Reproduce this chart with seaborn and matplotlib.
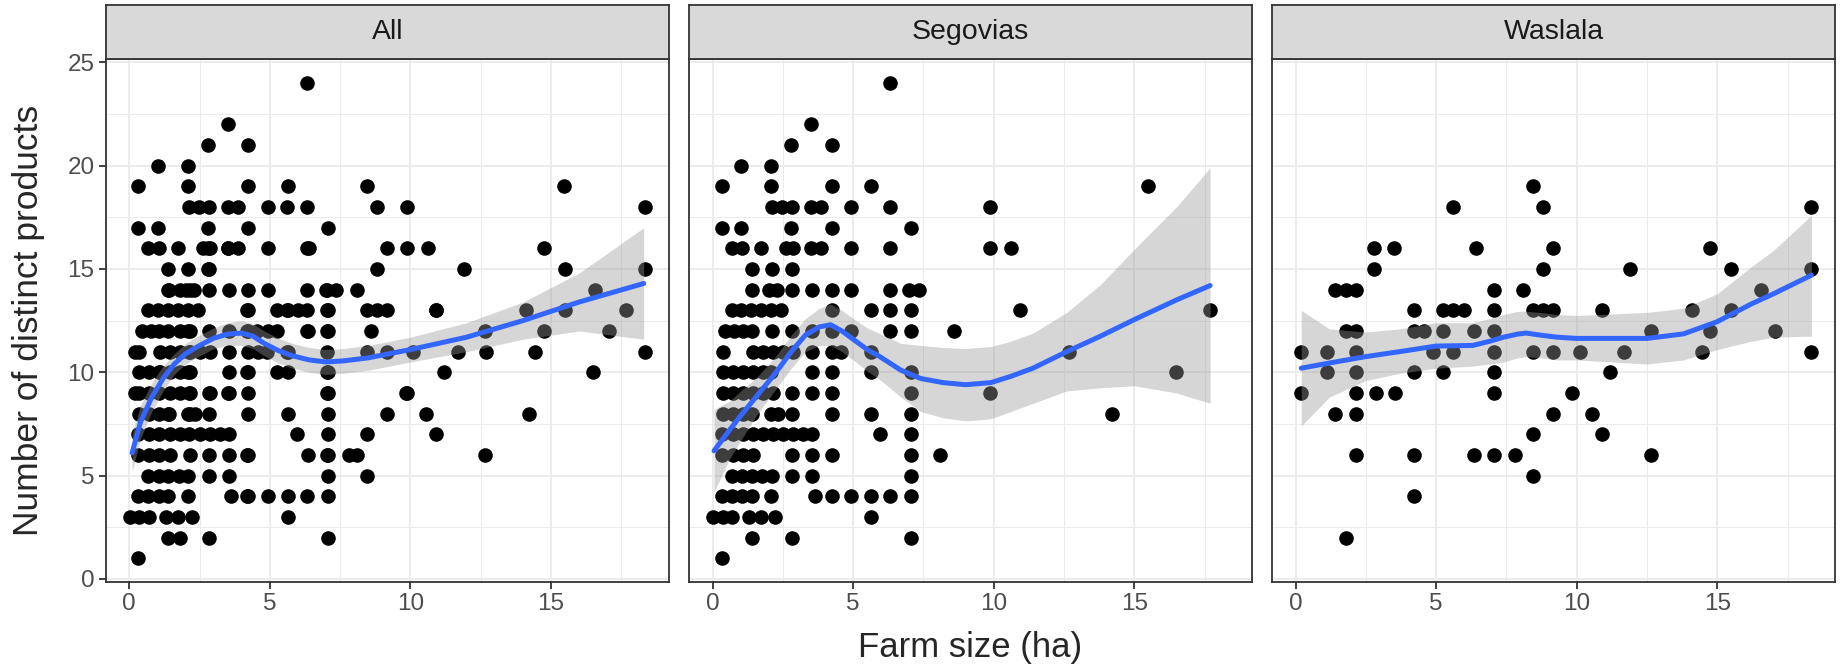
import matplotlib
matplotlib.use("Agg")
import pandas as pd
import matplotlib.pyplot as plt
import seaborn as sns

# farm size (ha) per number of distinct products, read from the facets
segovias = {
    24: [6.31],
    22: [3.51],
    21: [2.8, 4.23],
    20: [1.01, 2.08],
    19: [0.32, 2.08, 4.23, 5.63, 15.48],
    18: [2.12, 2.48, 2.83, 3.51, 3.87, 4.94, 6.31, 9.87],
    17: [0.32, 1.01, 2.8, 4.23, 7.06],
    16: [0.68, 1.04, 1.73, 2.62, 2.86, 3.51, 3.87, 4.94, 6.31, 9.87, 10.62],
    15: [1.39, 2.1, 2.82],
    14: [1.39, 2.02, 2.29, 2.82, 3.54, 4.23, 4.94, 6.31, 7.0, 7.35],
    13: [0.68, 1.01, 1.37, 1.73, 2.08, 2.44, 4.23, 5.63, 6.31, 7.06, 10.92, 17.68],
    12: [0.44, 0.77, 1.07, 1.39, 2.1, 2.82, 3.54, 4.23, 4.94, 6.31, 7.06, 8.6],
    11: [0.36, 1.43, 1.79, 2.14, 2.5, 2.86, 3.54, 4.23, 4.58, 5.65, 12.68],
    10: [0.36, 0.71, 1.07, 1.43, 1.79, 2.08, 3.54, 4.23, 5.63, 7.06, 16.48],
    9: [0.36, 0.71, 1.07, 1.43, 1.79, 2.14, 2.82, 3.54, 4.23, 7.06, 9.87],
    8: [0.36, 0.71, 1.07, 1.39, 2.08, 2.32, 2.82, 4.23, 5.63, 7.06, 14.22],
    7: [0.32, 0.71, 1.07, 1.43, 1.79, 2.14, 2.5, 2.86, 3.21, 3.54, 5.95, 7.06],
    6: [0.32, 0.71, 1.07, 1.43, 2.82, 3.54, 4.23, 7.06, 8.09],
    5: [0.68, 1.04, 1.39, 1.75, 2.1, 2.82, 3.54, 7.06],
    4: [0.32, 0.68, 1.04, 1.39, 2.08, 3.63, 4.23, 4.94, 5.63, 6.31, 7.06],
    3: [0.02, 0.36, 0.69, 1.31, 1.73, 2.23, 5.63],
    2: [1.39, 2.82, 7.06],
    1: [0.32],
}

waslala = {
    19: [8.45],
    18: [5.6, 8.8, 18.35],
    16: [2.8, 3.5, 6.4, 9.15, 14.75],
    15: [2.8, 8.8, 11.9, 15.5, 18.35],
    14: [1.4, 1.8, 2.15, 7.05, 8.1, 16.55],
    13: [4.2, 5.25, 5.6, 6.0, 7.05, 8.45, 8.8, 9.15, 10.9, 14.1, 15.5],
    12: [1.8, 2.15, 4.2, 4.55, 5.25, 6.35, 7.05, 12.65, 14.75, 17.05],
    11: [0.2, 1.1, 2.15, 4.9, 5.6, 7.05, 8.45, 9.15, 10.1, 11.7, 14.45, 18.35],
    10: [1.1, 2.15, 4.2, 5.25, 7.05, 11.2],
    9: [0.2, 2.15, 2.87, 3.52, 7.05, 9.85],
    8: [1.4, 2.15, 9.15, 10.55],
    7: [8.45, 10.9],
    6: [2.15, 4.2, 6.35, 7.05, 7.8, 12.65],
    5: [8.45],
    4: [4.2],
    2: [1.8],
}

# smoother + confidence band
all_fit_x = [0.1, 0.4, 0.8, 1.2, 1.6, 2.0, 2.5, 3.0, 3.5, 4.0, 4.4, 4.8, 5.3, 5.8, 6.4,
             7.0, 7.6, 8.5, 10.0, 12.0, 14.0, 16.0, 18.3]
all_fit_y = [6.1, 7.6, 8.8, 9.7, 10.4, 10.9, 11.3, 11.65, 11.85, 11.9, 11.75, 11.4, 11.05, 10.8, 10.6,
             10.5, 10.55, 10.7, 11.1, 11.7, 12.5, 13.4, 14.3]
all_fit_lo = [5.2, 6.8, 8.1, 9.1, 9.9, 10.4, 10.8, 11.15, 11.3, 11.3, 11.15, 10.8, 10.45, 10.2, 10.0,
              9.9, 9.95, 10.1, 10.5, 11.0, 11.6, 12.0, 11.6]
all_fit_hi = [7.0, 8.4, 9.5, 10.3, 10.9, 11.4, 11.8, 12.15, 12.4, 12.5, 12.35, 12.0, 11.65, 11.4, 11.2,
              11.1, 11.15, 11.3, 11.7, 12.4, 13.4, 14.8, 17.0]

seg_fit_x = [0.05, 0.6, 1.0, 1.6, 2.2, 2.8, 3.3, 3.8, 4.2, 4.6, 5.0, 5.5, 5.9, 6.7, 7.4,
             8.2, 9.0, 9.9, 10.6, 11.4, 12.6, 13.8, 15.0, 16.5, 17.7]
seg_fit_y = [6.2, 7.2, 7.9, 8.9, 9.9, 11.0, 11.8, 12.2, 12.3, 12.0, 11.6, 11.1, 10.8, 10.1, 9.7,
             9.5, 9.4, 9.5, 9.8, 10.2, 11.0, 11.75, 12.55, 13.5, 14.2]
seg_fit_lo = [4.2, 5.8, 6.7, 8.0, 9.1, 10.2, 11.0, 11.3, 11.3, 11.0, 10.6, 10.05, 9.7, 8.8, 8.1,
              7.8, 7.65, 7.75, 8.1, 8.5, 9.1, 9.25, 9.35, 9.0, 8.5]
seg_fit_hi = [8.2, 8.6, 9.1, 9.8, 10.7, 11.8, 12.6, 13.1, 13.3, 13.0, 12.6, 12.15, 11.9, 11.4, 11.3,
              11.2, 11.15, 11.25, 11.5, 11.9, 12.9, 14.25, 15.95, 18.0, 19.9]

was_fit_x = [0.2, 1.2, 2.5, 3.7, 5.0, 6.3, 6.9, 7.4, 7.9, 8.2, 8.7, 9.3, 10.0, 12.5, 13.8,
             15.0, 16.2, 17.0, 18.35]
was_fit_y = [10.2, 10.45, 10.76, 11.0, 11.27, 11.3, 11.5, 11.7, 11.85, 11.9, 11.8, 11.7, 11.64, 11.64, 11.86,
             12.45, 13.3, 13.8, 14.7]
was_fit_lo = [7.4, 8.8, 9.6, 9.95, 10.2, 10.3, 10.4, 10.5, 10.7, 10.76, 10.7, 10.6, 10.6, 10.4, 10.6,
              11.1, 11.5, 11.7, 11.75]
was_fit_hi = [13.0, 12.1, 11.95, 12.1, 12.4, 12.4, 12.6, 12.8, 12.95, 12.95, 12.9, 12.8, 12.75, 12.9, 13.1,
              13.8, 15.1, 15.9, 17.6]


def to_frame(rows, name):
    recs = [(x, y) for y, xs in rows.items() for x in xs]
    df = pd.DataFrame(recs, columns=["size", "products"])
    df["region"] = name
    return df


seg = to_frame(segovias, "Segovias")
was = to_frame(waslala, "Waslala")
both = pd.concat([seg, was]).assign(region="All")

panels = [
    ("All", both, all_fit_x, all_fit_y, all_fit_lo, all_fit_hi),
    ("Segovias", seg, seg_fit_x, seg_fit_y, seg_fit_lo, seg_fit_hi),
    ("Waslala", was, was_fit_x, was_fit_y, was_fit_lo, was_fit_hi),
]

sns.set_theme(style="white")
plt.rcParams["font.family"] = ["Liberation Sans", "DejaVu Sans"]

W, H = 1841, 667
fig = plt.figure(figsize=(W / 100, H / 100), dpi=100)

lefts = [105.7, 689, 1272]
pw = 563.3
ptop, pbot = 59.3, 582
stop = 5

for i, (name, df, fx, fy, flo, fhi) in enumerate(panels):
    ax = fig.add_axes([lefts[i] / W, 1 - pbot / H, pw / W, (pbot - ptop) / H])
    ax.set_facecolor("white")
    ax.set_xlim(-0.84, 19.2)
    ax.set_ylim(-0.15, 25.15)
    ax.set_xticks([0, 5, 10, 15])
    ax.set_xticks([2.5, 7.5, 12.5, 17.5], minor=True)
    ax.set_yticks([0, 5, 10, 15, 20, 25])
    ax.set_yticks([2.5, 7.5, 12.5, 17.5, 22.5], minor=True)
    ax.grid(which="major", color="#EBEBEB", lw=1.3)
    ax.grid(which="minor", color="#EBEBEB", lw=0.7)
    ax.set_axisbelow(True)

    sns.scatterplot(data=df, x="size", y="products", color="black", s=110,
                    linewidth=0, ax=ax, zorder=2)
    ax.fill_between(fx, flo, fhi, color="#999999", alpha=0.4, lw=0, zorder=3)
    sns.lineplot(x=fx, y=fy, color="#3366FF", lw=3.6, ax=ax, zorder=4, sort=False)

    ax.set_xlabel("")
    ax.set_ylabel("")
    for s in ax.spines.values():
        s.set_color("#333333")
        s.set_linewidth(1.3)
    ax.tick_params(axis="both", which="major", length=5, width=1.3, color="#333333",
                   labelsize=17.5, labelcolor="#4D4D4D", pad=3, bottom=True, left=(i == 0))
    ax.tick_params(which="minor", length=0)
    if i > 0:
        ax.set_yticklabels([])

    # facet strip
    sax = fig.add_axes([lefts[i] / W, 1 - ptop / H, pw / W, (ptop - stop) / H])
    sax.set_facecolor("#D9D9D9")
    sax.set_xticks([])
    sax.set_yticks([])
    for s in sax.spines.values():
        s.set_color("#333333")
        s.set_linewidth(1.3)
    sax.text(0.5, 0.5, name, ha="center", va="center", fontsize=20.5, color="#1A1A1A",
             transform=sax.transAxes)

fig.text(29 / W, 1 - (ptop + pbot) / 2 / H, "Number of distinct products", rotation=90,
         ha="center", va="center", fontsize=25.5)
fig.text(970 / W, 1 - 647 / H, "Farm size (ha)", ha="center", va="center", fontsize=25)

fig.savefig("out.png", dpi=100)
